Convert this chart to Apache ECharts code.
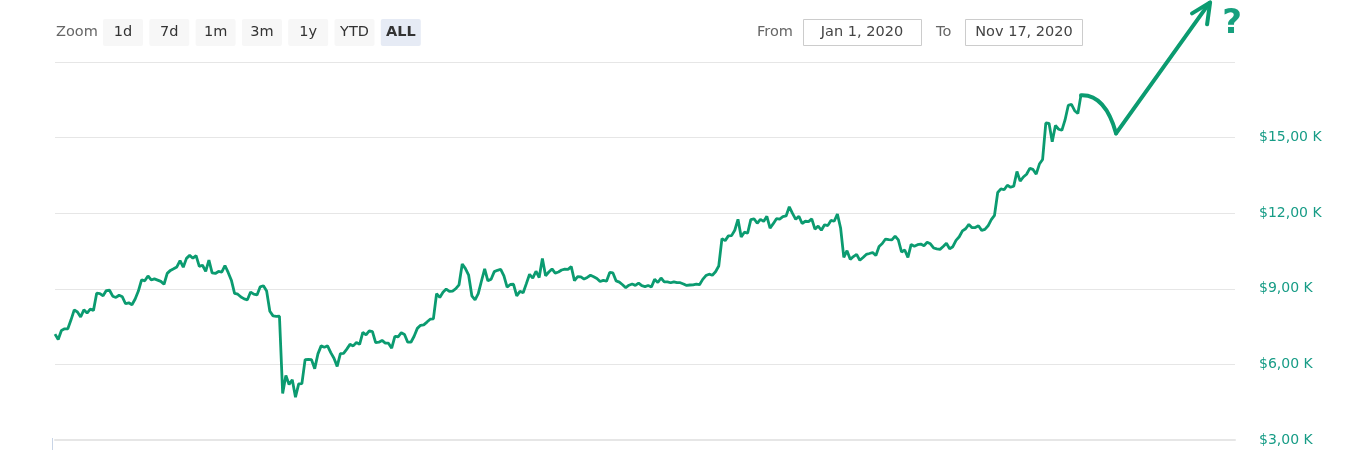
<!DOCTYPE html>
<html>
<head>
<meta charset="utf-8">
<script src="https://cdn.jsdelivr.net/npm/echarts@6/dist/echarts.min.js"></script>
<style>
html,body{margin:0;padding:0;background:#fff;}
#c{width:1356px;height:450px;}
</style>
</head>
<body>
<div id="c"></div>
<script>
// Daily BTC-like price values (USD)
const startDate = '2020-01-01';
const jan = [7200,6985,7345,7410,7411,7769,8163,8079,7879,8166,8037,8193,8144,8828,8808,8723,8930,8942,8706,8657,8745,8681,8407,8445,8368,8597,8910,9358,9316,9509,9351];
const feb = [9393,9344,9293,9180,9613,9730,9796,9866,10117,9856,10208,10327,10215,10313,9889,9935,9691,10142,9633,9608,9687,9663,9924,9650,9342,8821,8785,8672,8600];
const mar = [8563,8870,8787,8756,9079,9122,8910,8108,7924,7909,7912,4850,5563,5201,5392,4700,5225,5239,6191,6199,6186,5831,6417,6735,6682,6734,6469,6243,5922,6429,6438];
const apr = [6606,6794,6734,6866,6794,7271,7176,7335,7302,6866,6880,6952,6843,6843,6642,7116,7097,7257,7189,6882,6880,7117,7430,7551,7570,7679,7795,7807,8802,8658];
const may = [8864,8989,8897,8912,9004,9158,9986,9800,9539,8722,8562,8810,9309,9792,9316,9381,9680,9733,9775,9511,9068,9170,9180,8720,8900,8842,9204,9575,9427,9697,9448];
const jun = [10200,9519,9666,9789,9621,9666,9746,9782,9772,9880,9321,9480,9475,9386,9450,9538,9480,9411,9288,9332,9303,9648,9629,9313,9264,9162,9045,9143,9190,9137];
const jul = [9228,9123,9087,9132,9073,9375,9252,9428,9277,9278,9240,9276,9243,9243,9192,9132,9151,9159,9185,9164,9374,9525,9581,9536,9677,9905,10990,10912,11100,11111,11323];
const aug = [11759,11053,11246,11205,11747,11779,11601,11754,11675,11878,11410,11584,11784,11768,11865,11892,12254,11991,11758,11878,11592,11681,11664,11774,11366,11488,11323,11542,11507,11711,11680];
const sep = [11970,11414,10245,10511,10169,10280,10369,10131,10242,10363,10400,10442,10323,10680,10796,10974,10948,10944,11094,10938,10462,10538,10246,10760,10692,10750,10775,10709,10844,10784];
const oct = [10620,10585,10565,10680,10804,10590,10669,10924,11065,11297,11384,11555,11425,11430,11505,11320,11360,11500,11745,11916,12823,12965,12931,13108,13031,13075,13654,13271,13437,13546,13781];
const nov = [13737,13550,13950,14133,15579,15565,14833,15479,15332,15290,15701,16276,16317,16068,15955,16716];
const yTicks = [3000,6000,9000,12000,15000,18000];
const zoomButtons = ['1d','7d','1m','3m','1y','YTD','ALL'];
const fromText = 'Jan 1, 2020';
const toText = 'Nov 17, 2020';
const axisEndDate = '2021-01-03';

const values = [].concat(jan,feb,mar,apr,may,jun,jul,aug,sep,oct,nov);
const DAY = 86400000;
const t0 = Date.parse(startDate + 'T00:00:00Z');
const seriesData = values.map((v,i)=>[t0 + i*DAY, v]);

const FONT = 'DejaVu Sans';
const GREEN = '#0b9b70';
const chart = echarts.init(document.getElementById('c'), null, {renderer:'canvas'});

const graphics = [];
graphics.push({type:'text', x:56, y:32.5, style:{text:'Zoom', font:'14.5px "DejaVu Sans"', fill:'#666', textVerticalAlign:'middle'}});
zoomButtons.forEach((b,i)=>{
  const x = 103 + i*46.3;
  const sel = b==='ALL';
  graphics.push({type:'rect', shape:{x:x, y:19, width:40, height:27, r:2}, style:{fill: sel ? '#e6ebf5' : '#f7f7f7'}});
  graphics.push({type:'text', x:x+20, y:32.5, style:{text:b, font:(sel?'bold ':'')+'14.5px "DejaVu Sans"', fill:'#333', textAlign:'center', textVerticalAlign:'middle'}});
});
graphics.push({type:'text', x:757, y:32.5, style:{text:'From', font:'14.5px "DejaVu Sans"', fill:'#666', textVerticalAlign:'middle'}});
graphics.push({type:'rect', shape:{x:803.5, y:19.5, width:118, height:26}, style:{fill:'#fff', stroke:'#cccccc', lineWidth:1}});
graphics.push({type:'text', x:862, y:32.5, style:{text:fromText, font:'14.5px "DejaVu Sans"', fill:'#444', textAlign:'center', textVerticalAlign:'middle'}});
graphics.push({type:'text', x:936, y:32.5, style:{text:'To', font:'14.5px "DejaVu Sans"', fill:'#666', textVerticalAlign:'middle'}});
graphics.push({type:'rect', shape:{x:965.5, y:19.5, width:117, height:26}, style:{fill:'#fff', stroke:'#cccccc', lineWidth:1}});
graphics.push({type:'text', x:1024, y:32.5, style:{text:toText, font:'14.5px "DejaVu Sans"', fill:'#444', textAlign:'center', textVerticalAlign:'middle'}});
graphics.push({type:'line', shape:{x1:52.5, y1:438, x2:52.5, y2:450}, style:{stroke:'#c8d4e6', lineWidth:1}});
graphics.push({type:'text', x:1232, y:24, style:{text:'?', font:'bold 34px "DejaVu Sans"', fill:'#17a07e', textAlign:'center', textVerticalAlign:'middle'}});

chart.setOption({
  animation:false,
  grid:{left:55, right:121, top:62, bottom:10},
  xAxis:{type:'time', min:t0, max:Date.parse(axisEndDate+'T00:00:00Z'), show:true,
    axisLine:{show:true, lineStyle:{color:'#e6e6e6', width:2}}, axisTick:{show:false}, axisLabel:{show:false}, splitLine:{show:false}},
  yAxis:{type:'value', position:'right', min:yTicks[0], max:yTicks[yTicks.length-1], interval:3000,
    axisLine:{show:false}, axisTick:{show:false},
    splitLine:{lineStyle:{color:'#e6e6e6', width:1}},
    axisLabel:{margin:24, align:'left', color:'#179c86', fontFamily:FONT, fontSize:14,
      formatter:v=> v===18000 ? '' : '$' + (v/1000) + ',00 K'}},
  series:[{type:'line', data:seriesData, showSymbol:false, symbol:'none',
    lineStyle:{color:GREEN, width:2.8}, itemStyle:{color:GREEN}}],
  graphic:graphics
});

// hand-drawn arrow annotation starting at the last data point
const last = seriesData[seriesData.length-1];
const p = chart.convertToPixel({gridIndex:0}, last);
const sx = p[0], sy = p[1];
const arrowStyle = {stroke:GREEN, lineWidth:4, fill:null, lineCap:'round', lineJoin:'round'};
chart.setOption({graphic: graphics.concat([
  {type:'bezierCurve', z:100, shape:{x1:sx, y1:sy+1, cpx1:sx+24, cpy1:sy, x2:sx+35, y2:sy+39}, style:arrowStyle},
  {type:'line', z:100, shape:{x1:sx+35, y1:sy+39, x2:sx+128, y2:sy-91}, style:arrowStyle},
  {type:'polyline', z:100, shape:{points:[[sx+111,sy-81],[sx+129,sy-92],[sx+126,sy-70]]}, style:arrowStyle}
])});
</script>
</body>
</html>
